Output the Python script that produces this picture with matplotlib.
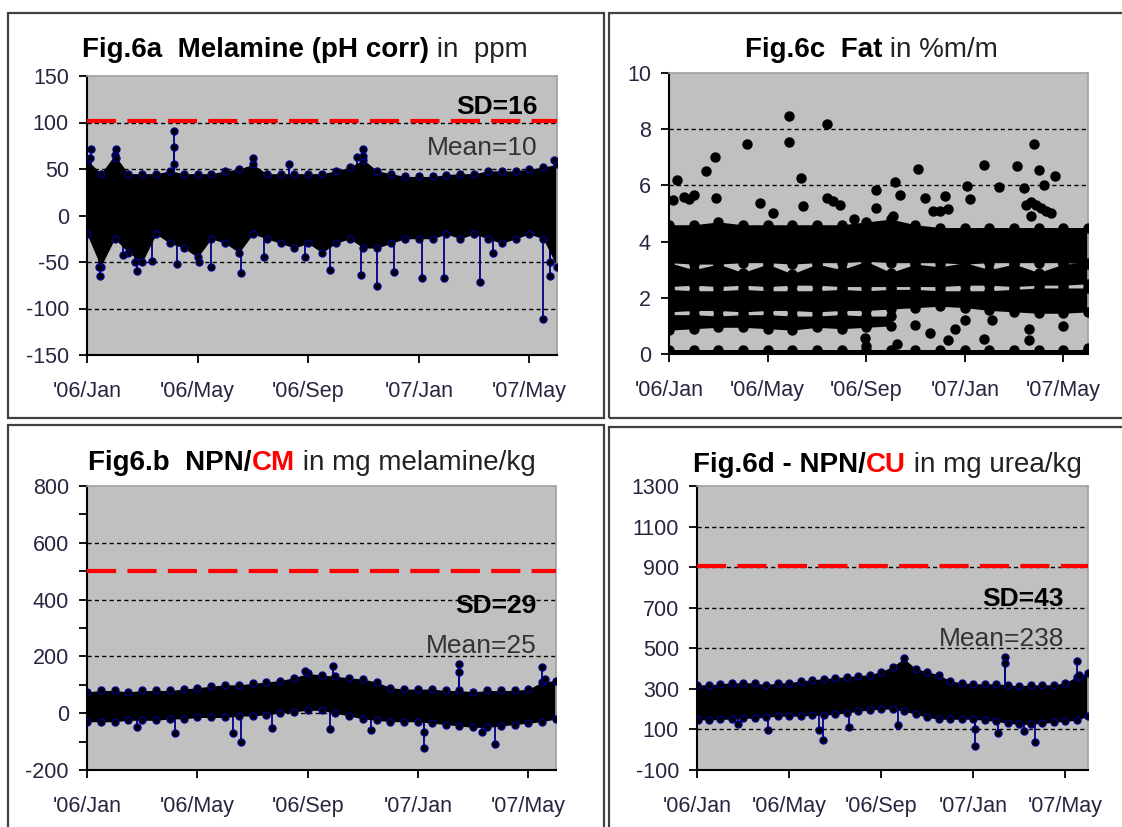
import numpy as np
import matplotlib
matplotlib.use('Agg')
import matplotlib.pyplot as plt
from matplotlib.patches import Rectangle

plt.rcParams['font.family'] = ['Liberation Sans', 'DejaVu Sans']
plt.rcParams['axes.unicode_minus'] = False

W, H = 1122, 827
NAVY = '#000080'
GRAY = '#c0c0c0'
LABEL = '#262640'

# months since Jan 2006 for x axis
month_ticks = [0, 4, 8, 12, 16]
month_labels = ["'06/Jan", "'06/May", "'06/Sep", "'07/Jan", "'07/May"]
half_months = np.arange(0, 17.01, 0.5)
months = np.arange(0, 18)

# Fig.6a melamine (pH corr), ppm: dense core envelope, half-monthly
mel_top = [60, 45, 65, 45, 45, 45, 48, 45, 45, 45, 48, 50, 55, 45, 45, 45, 45, 45,
           48, 52, 60, 48, 45, 42, 42, 42, 44, 45, 45, 48, 48, 48, 50, 52, 55]
mel_bot = [-20, -55, -25, -40, -50, -20, -30, -35, -45, -25, -30, -40, -20, -25, -30,
           -35, -30, -40, -30, -25, -35, -35, -30, -25, -25, -25, -20, -25, -20, -25,
           -30, -25, -20, -25, -55]
mel_out_m = [0.15, 0.1, 0.47, 0.42, 1.05, 1.05, 1.3, 1.8, 1.75, 2.35, 3.14, 3.14, 3.14,
             3.25, 4.04, 4.5, 5.56, 6.0, 6.4, 7.3, 7.9, 8.8, 9.75, 9.9, 10.0, 10.0, 10.5,
             11.1, 12.1, 12.9, 14.2, 14.7, 16.5, 16.75, 16.75, 16.9]
mel_out_v = [71, 62, -65, -55, 72, 62, -42, -60, -50, -49, 91, 74, 55,
             -52, -50, -55, -62, 62, -45, 55, -45, -59, 63, -64, 71, 64, -76,
             -61, -67, -67, -71, -40, -111, -65, -50, 60]
mel_limit, mel_mean, mel_sd = 102, 10, 16

# Fig6.b NPN/CM, mg melamine/kg
cm_top = [75, 80, 80, 75, 80, 80, 80, 85, 90, 95, 100, 100, 105, 110, 115, 125, 140,
          135, 130, 125, 120, 110, 90, 85, 85, 85, 80, 80, 75, 80, 80, 80, 85, 110, 115]
cm_bot = [-30, -30, -30, -25, -25, -25, -20, -20, -15, -15, -15, -10, -10, -5, 0, 5, 10,
          10, 0, -10, -20, -25, -30, -30, -30, -35, -40, -45, -50, -50, -45, -40, -35, -30, -20]
cm_out_m = [1.8, 3.19, 5.3, 5.57, 6.69, 7.9, 8.8, 8.92, 10.3, 12.2, 12.2, 13.5, 13.5,
            14.3, 14.8, 16.5, 16.6]
cm_out_v = [-50, -69, -69, -101, -53, 150, -54, 165, -60, -121, -65, 175, 146,
            -65, -107, 161, 120]
cm_limit, cm_mean, cm_sd = 500, 25, 29

# Fig.6c fat, %m/m: monthly band limits
fat_main_top = [4.6, 4.6, 4.7, 4.6, 4.6, 4.6, 4.6, 4.6, 4.7, 4.8, 4.6, 4.5, 4.5, 4.5, 4.5, 4.5, 4.5, 4.5]
fat_main_bot = [3.25, 3.2, 3.2, 3.25, 3.25, 3.2, 3.25, 3.25, 3.3, 3.25, 3.25, 3.25, 3.2, 3.25, 3.25, 3.25, 3.25, 3.2]
fat_b2_top = [3.25, 3.0, 3.2, 2.9, 3.2, 2.85, 3.2, 3.0, 3.3, 2.9, 3.2, 3.1, 3.25, 3.0, 3.2, 2.9, 3.2, 3.25]
fat_b2_bot = [2.4, 2.45, 2.4, 2.45, 2.4, 2.45, 2.45, 2.4, 2.4, 2.4, 2.4, 2.4, 2.45, 2.45, 2.4, 2.45, 2.45, 2.5]
fat_b3_top = [2.3, 2.25, 2.25, 2.3, 2.25, 2.25, 2.25, 2.3, 2.25, 2.3, 2.3, 2.25, 2.25, 2.25, 2.3, 2.35, 2.35, 2.35]
fat_b3_bot = [1.5, 1.55, 1.55, 1.5, 1.55, 1.55, 1.5, 1.55, 1.55, 1.6, 1.65, 1.7, 1.65, 1.55, 1.5, 1.45, 1.45, 1.5]
fat_b4_top = [1.4, 1.4, 1.35, 1.4, 1.4, 1.35, 1.35, 1.4, 1.35, 1.35]
fat_b4_bot = [0.85, 0.9, 0.95, 0.95, 0.9, 0.85, 0.95, 0.9, 0.95, 1.0]
fat_zero_top = [0.15] * 18
fat_zero_bot = [0.03] * 18
fat_out_m = [0.17, 0.31, 0.6, 0.8, 1.0, 1.5, 1.87, 1.9, 3.17, 3.71, 4.2, 4.86, 4.86, 5.37,
             5.45, 6.42, 6.42, 6.67, 6.94, 7.5, 8.4, 8.4, 9.1, 9.18, 9.39, 10.1, 10.4, 10.7,
             11.0, 11.2, 11.3, 12.1, 12.2, 12.8, 13.4, 14.1, 14.4, 14.5, 14.7, 14.7, 14.8,
             14.9, 15.0, 15.1, 15.2, 15.3, 15.5, 15.65,
             7.96, 8.0, 9.25, 10.0, 10.6, 11.3, 11.6, 12.0, 12.8, 13.1, 14.6, 14.6, 16.0, 17.0]
fat_out_v = [5.48, 6.19, 5.6, 5.5, 5.65, 6.52, 7.0, 5.55, 7.46, 5.39, 5.0, 8.47, 7.53, 6.25,
             5.27, 8.2, 5.55, 5.43, 5.31, 4.8, 5.84, 5.2, 4.9, 6.13, 5.65, 6.58, 5.55, 5.1,
             5.1, 5.63, 5.15, 5.98, 5.5, 6.73, 5.96, 6.7, 5.9, 5.3, 5.4, 4.9, 7.47,
             5.3, 6.56, 5.2, 6.0, 5.1, 5.0, 6.32,
             0.57, 0.27, 0.35, 1.03, 0.73, 0.5, 0.9, 1.2, 0.55, 1.2, 0.9, 0.5, 1.0, 0.2]

# Fig.6d NPN/CU, mg urea/kg
cu_top = [320, 320, 325, 330, 330, 330, 320, 330, 330, 340, 345, 350, 355, 360, 365, 370,
          385, 410, 450, 400, 385, 370, 340, 330, 325, 325, 325, 320, 315, 320, 320, 320,
          330, 360, 380]
cu_bot = [150, 145, 150, 150, 155, 155, 160, 165, 165, 165, 170, 170, 175, 180, 190, 195,
          200, 200, 190, 175, 160, 150, 150, 150, 150, 145, 140, 130, 125, 125, 130, 135,
          140, 145, 165]
cu_out_m = [0.05, 1.8, 3.1, 5.3, 5.49, 6.6, 8.75, 12.1, 12.1, 13.1, 13.4, 13.4, 14.2,
            14.7, 16.5, 16.6]
cu_out_v = [145, 125, 97, 97, 48, 113, 120, 18, 103, 80, 459, 426, 90,
            40, 439, 370]
cu_limit, cu_mean, cu_sd = 905, 238, 43


def rect(l, t, r, b):
    return [l / W, 1 - b / H, (r - l) / W, (b - t) / H]


def style_axes(ax, ylim, yticks, minor=None):
    ax.set_facecolor(GRAY)
    ax.set_xlim(0, 17)
    ax.set_ylim(*ylim)
    ax.set_xticks(month_ticks)
    ax.set_xticklabels(month_labels)
    ax.set_yticks(yticks)
    if minor is not None:
        ax.set_yticks(minor, minor=True)
        ax.tick_params(axis='y', which='minor', direction='out', length=6, width=1.3,
                       color='black')
    ax.tick_params(axis='x', direction='out', length=6, width=1.3, pad=13,
                   labelsize=15.5, labelcolor=LABEL)
    ax.tick_params(axis='y', direction='out', length=6, width=1.3, pad=7,
                   labelsize=15.5, labelcolor=LABEL)
    for s in ['left', 'bottom']:
        ax.spines[s].set_color('black')
        ax.spines[s].set_linewidth(1.5)
    for s in ['top', 'right']:
        ax.spines[s].set_color('#a0a0a0')
        ax.spines[s].set_linewidth(1.2)
    # dashed gridlines only inside the plot area
    for y in yticks[1:-1]:
        ax.axhline(y, color='black', linestyle=(0, (3, 2.3)), linewidth=1.0, zorder=1)


def draw_series(ax, top, bot, out_m, out_v, mean):
    ax.fill_between(half_months, bot, top, color='black', lw=0, zorder=2)
    ax.vlines(out_m, mean, out_v, color=NAVY, lw=1.3, zorder=1.5)
    for vals in (top, bot):
        ax.plot(half_months, vals, 'o', ms=5, mfc='black', mec=NAVY, mew=1, zorder=3)
    ax.plot(out_m, out_v, 'o', ms=5, mfc='black', mec=NAVY, mew=1, zorder=3)


def limit_line(ax, y):
    ax.axhline(y, color='#ff0000', lw=3, dashes=(7, 2.7), zorder=4)


fig = plt.figure(figsize=(W / 100, H / 100), dpi=100)

# panel frames
for l, t, r, b in [(8, 13, 604, 418), (609, 13, 1125, 418),
                   (8, 425, 604, 830), (609, 427, 1125, 830)]:
    fig.add_artist(Rectangle((l / W, 1 - b / H), (r - l) / W, (b - t) / H,
                             transform=fig.transFigure, fill=False,
                             ec='#404040', lw=1.6))

# Fig.6a
ax_a = fig.add_axes(rect(87, 76, 557, 355))
style_axes(ax_a, (-150, 150), np.arange(-150, 151, 50))
draw_series(ax_a, mel_top, mel_bot, mel_out_m, mel_out_v, mel_mean)
limit_line(ax_a, mel_limit)
ax_a.text(16.3, 109, f'SD={mel_sd}', fontsize=19, weight='bold', ha='right',
          va='baseline', zorder=5)
ax_a.text(16.3, 65, f'Mean={mel_mean}', fontsize=19, color='#333333', ha='right',
          va='baseline', zorder=5)

# Fig.6c
ax_c = fig.add_axes(rect(669, 73, 1088, 354))
style_axes(ax_c, (0, 10), np.arange(0, 11, 2))
for tp, bt in [(fat_main_top, fat_main_bot), (fat_b2_top, fat_b2_bot),
               (fat_b3_top, fat_b3_bot), (fat_zero_top, fat_zero_bot)]:
    ax_c.fill_between(months, bt, tp, color='black', lw=0, zorder=2)
    ax_c.plot(months, tp, 'o', ms=6.5, color='black', zorder=3)
    ax_c.plot(months, bt, 'o', ms=6.5, color='black', zorder=3)
ax_c.fill_between(months[:10], fat_b4_bot, fat_b4_top, color='black', lw=0, zorder=2)
ax_c.plot(months[:10], fat_b4_top, 'o', ms=6.5, color='black', zorder=3)
ax_c.plot(months[:10], fat_b4_bot, 'o', ms=6.5, color='black', zorder=3)
ax_c.plot(fat_out_m, fat_out_v, 'o', ms=6.5, color='black', zorder=3)

# Fig6.b
ax_b = fig.add_axes(rect(87, 486, 556, 770))
style_axes(ax_b, (-200, 800), np.arange(-200, 801, 200), minor=np.arange(-100, 800, 200))
draw_series(ax_b, cm_top, cm_bot, cm_out_m, cm_out_v, cm_mean)
limit_line(ax_b, cm_limit)
ax_b.text(16.3, 352, f'SD={cm_sd}', fontsize=19, weight='bold', ha='right',
          va='baseline', zorder=5)
ax_b.text(16.3, 212, f'Mean={cm_mean}', fontsize=19, color='#333333', ha='right',
          va='baseline', zorder=5)

# Fig.6d
ax_d = fig.add_axes(rect(697, 486, 1088, 770))
style_axes(ax_d, (-100, 1300), np.arange(-100, 1301, 200))
draw_series(ax_d, cu_top, cu_bot, cu_out_m, cu_out_v, cu_mean)
limit_line(ax_d, cu_limit)
ax_d.text(15.96, 708, f'SD={cu_sd}', fontsize=19, weight='bold', ha='right',
          va='baseline', zorder=5)
ax_d.text(15.96, 511, f'Mean={cu_mean}', fontsize=19, color='#333333', ha='right',
          va='baseline', zorder=5)

# titles built from pieces with different weight / colour
fig.canvas.draw()
renderer = fig.canvas.get_renderer()


def piece_title(x, y, parts):
    xpix = x
    for txt, wt, col in parts:
        t = fig.text(xpix / W, 1 - y / H, txt, fontsize=20, weight=wt, color=col,
                     ha='left', va='baseline')
        xpix += t.get_window_extent(renderer).width


piece_title(82, 57, [('Fig.6a  Melamine (pH corr)', 'bold', 'black'),
                     (' in  ppm', 'normal', '#222222')])
piece_title(745, 57, [('Fig.6c  Fat', 'bold', 'black'),
                      (' in %m/m', 'normal', '#222222')])
piece_title(88, 470, [('Fig6.b  NPN/', 'bold', 'black'), ('CM', 'bold', '#ff0000'),
                      (' in mg melamine/kg', 'normal', '#222222')])
piece_title(693, 472, [('Fig.6d - NPN/', 'bold', 'black'), ('CU', 'bold', '#ff0000'),
                       (' in mg urea/kg', 'normal', '#222222')])

fig.savefig('out.png', dpi=100, facecolor='white')
